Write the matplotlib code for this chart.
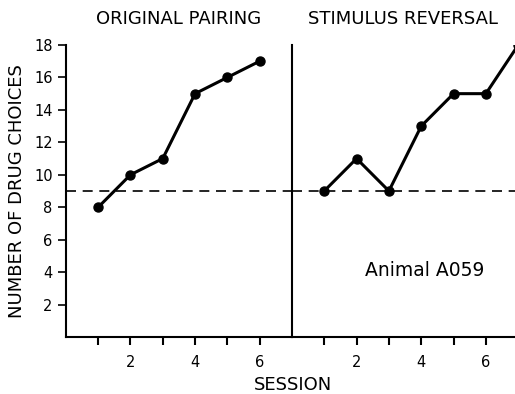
import matplotlib.pyplot as plt

# Sessions and number of drug choices per phase
sessions_orig = [1, 2, 3, 4, 5, 6]
choices_orig = [8, 10, 11, 15, 16, 17]
sessions_rev = [1, 2, 3, 4, 5, 6, 7]
choices_rev = [9, 11, 9, 13, 15, 15, 18]
chance_level = 9
yticks = [2, 4, 6, 8, 10, 12, 14, 16, 18]
xticks = [1, 2, 3, 4, 5, 6]
xlabels = ['', '2', '', '4', '', '6']

plt.rcParams['font.family'] = ['DejaVu Sans']

fig = plt.figure(figsize=(5.15, 3.94), dpi=100)
ax1 = fig.add_axes([0.128, 0.1447, 0.4388, 0.7411])
ax2 = fig.add_axes([0.5668, 0.1447, 0.4332, 0.7411], sharey=ax1)

for ax, x, y, title in [(ax1, sessions_orig, choices_orig, 'ORIGINAL PAIRING'),
                        (ax2, sessions_rev, choices_rev, 'STIMULUS REVERSAL')]:
    ax.plot(x, y, color='black', lw=2.2, marker='o', ms=6.5)
    ax.axhline(chance_level, color='black', lw=1.2, ls=(0, (6, 4)))
    ax.set_ylim(0, 18)
    ax.set_xticks(xticks)
    ax.set_xticklabels(xlabels, fontsize=10.5)
    ax.tick_params(axis='x', direction='out', length=6, width=1.5, pad=7)
    ax.spines['top'].set_visible(False)
    ax.spines['right'].set_visible(False)
    for s in ('left', 'bottom'):
        ax.spines[s].set_linewidth(1.5)
    ax.set_title(title, fontsize=13, pad=15)

ax1.set_xlim(0, 7)
ax2.set_xlim(0, 6.9)
ax1.set_yticks(yticks)
ax1.set_yticklabels([str(v) for v in yticks], fontsize=10.5)
ax1.tick_params(axis='y', direction='out', length=6, width=1.2)
ax2.tick_params(axis='y', left=False, labelleft=False)

ax1.set_ylabel('NUMBER OF DRUG CHOICES', fontsize=13, labelpad=6)
fig.text(0.569, 0.023, 'SESSION', ha='center', va='center', fontsize=13)
ax2.text(4.1, 4.1, 'Animal A059', ha='center', va='center', fontsize=13.5)

fig.savefig('out.png', dpi=100)
